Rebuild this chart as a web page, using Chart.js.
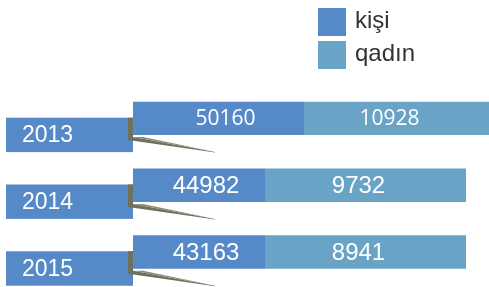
<!DOCTYPE html>
<html><head><meta charset="utf-8">
<script src="https://cdn.jsdelivr.net/npm/chart.js@4/dist/chart.umd.min.js"></script>
<style>html,body{margin:0;padding:0;background:#fff;}#wrap{width:489px;height:287px;position:relative;}</style>
</head><body><div id="wrap"><canvas id="c" width="489" height="287"></canvas></div>
<script>
// Categories and the values printed on the bars
const years = ['2013', '2014', '2015'];
const kisi = [50160, 44982, 43163];
const qadin = [10928, 9732, 8941];
// Bar lengths as drawn in the picture (the infographic is not to scale)
const kisiLen = [171, 132, 132];
const qadinLen = [201, 201, 201];
const seriesNames = ['kişi', 'qadın'];
const colors = ['#5689c7', '#69a4c6'];

const decor = {
  id: 'decor',
  beforeDatasetsDraw(chart) {
    const ctx = chart.ctx;
    const meta = chart.getDatasetMeta(0);
    meta.data.forEach((bar, i) => {
      const h = bar.height;
      const top = bar.y - h / 2;
      const bot = bar.y + h / 2;
      const x0 = bar.base;
      const bt = top + 16, bb = bot + 17;
      // year box
      ctx.fillStyle = colors[0];
      ctx.fillRect(6, bt, x0 - 6, bb - bt);
      // fold shadow
      ctx.fillStyle = '#6f715f';
      ctx.beginPath();
      ctx.moveTo(x0 - 5, bt);
      ctx.lineTo(x0, bt);
      ctx.lineTo(x0, bot + 2);
      ctx.lineTo(x0 + 82, bb);
      ctx.lineTo(x0 + 82, bb + 0.5);
      ctx.lineTo(x0 - 5, bot + 5);
      ctx.closePath();
      ctx.fill();
      ctx.fillStyle = '#8a8c76';
      ctx.beginPath();
      ctx.moveTo(x0, bot + 2);
      ctx.lineTo(x0 + 82, bb);
      ctx.lineTo(x0 + 10, bot + 2);
      ctx.closePath();
      ctx.fill();
      // year text
      ctx.fillStyle = '#ffffff';
      ctx.font = '23px "Liberation Sans", Arial, sans-serif';
      ctx.textBaseline = 'middle';
      ctx.textAlign = 'left';
      ctx.fillText(years[i], 22, (bt + bb) / 2 + 1);
    });
  },
  afterDatasetsDraw(chart) {
    const ctx = chart.ctx;
    const area = chart.chartArea;
    const vals = [kisi, qadin];
    chart.data.datasets.forEach((ds, d) => {
      const meta = chart.getDatasetMeta(d);
      meta.data.forEach((bar, i) => {
        const l = Math.min(bar.base, bar.x);
        const r = Math.min(Math.max(bar.base, bar.x), area.right);
        ctx.fillStyle = '#ffffff';
        ctx.textAlign = 'center';
        ctx.textBaseline = 'middle';
        ctx.font = i === 0 ? '21px "Open Sans", sans-serif' : '24px "Liberation Sans", Arial, sans-serif';
        const off = d === 0 ? 7 : -7;
        ctx.fillText(String(vals[d][i]), (l + r) / 2 + off, bar.y + 1);
      });
    });
    // legend
    chart.data.datasets.forEach((ds, d) => {
      const y = 8 + d * 33;
      ctx.fillStyle = ds.backgroundColor;
      ctx.fillRect(318, y, 28, 28);
      ctx.fillStyle = '#333333';
      ctx.font = '24px "Liberation Sans", Arial, sans-serif';
      ctx.textAlign = 'left';
      ctx.textBaseline = 'middle';
      ctx.fillText(ds.label, 355, y + 13);
    });
  }
};

new Chart(document.getElementById('c'), {
  type: 'bar',
  data: {
    labels: years,
    datasets: [
      { label: seriesNames[0], data: kisiLen, backgroundColor: colors[0] },
      { label: seriesNames[1], data: qadinLen, backgroundColor: colors[1] }
    ]
  },
  options: {
    indexAxis: 'y',
    responsive: false,
    animation: false,
    events: [],
    layout: { padding: { left: 133, right: 0, top: 85, bottom: 1.6 } },
    datasets: { bar: { barPercentage: 1, categoryPercentage: 0.5, borderWidth: 0 } },
    scales: {
      x: { stacked: true, display: false, min: 0, max: 356 },
      y: { stacked: true, display: false }
    },
    plugins: { legend: { display: false }, tooltip: { enabled: false } }
  },
  plugins: [decor]
});
</script></body></html>
